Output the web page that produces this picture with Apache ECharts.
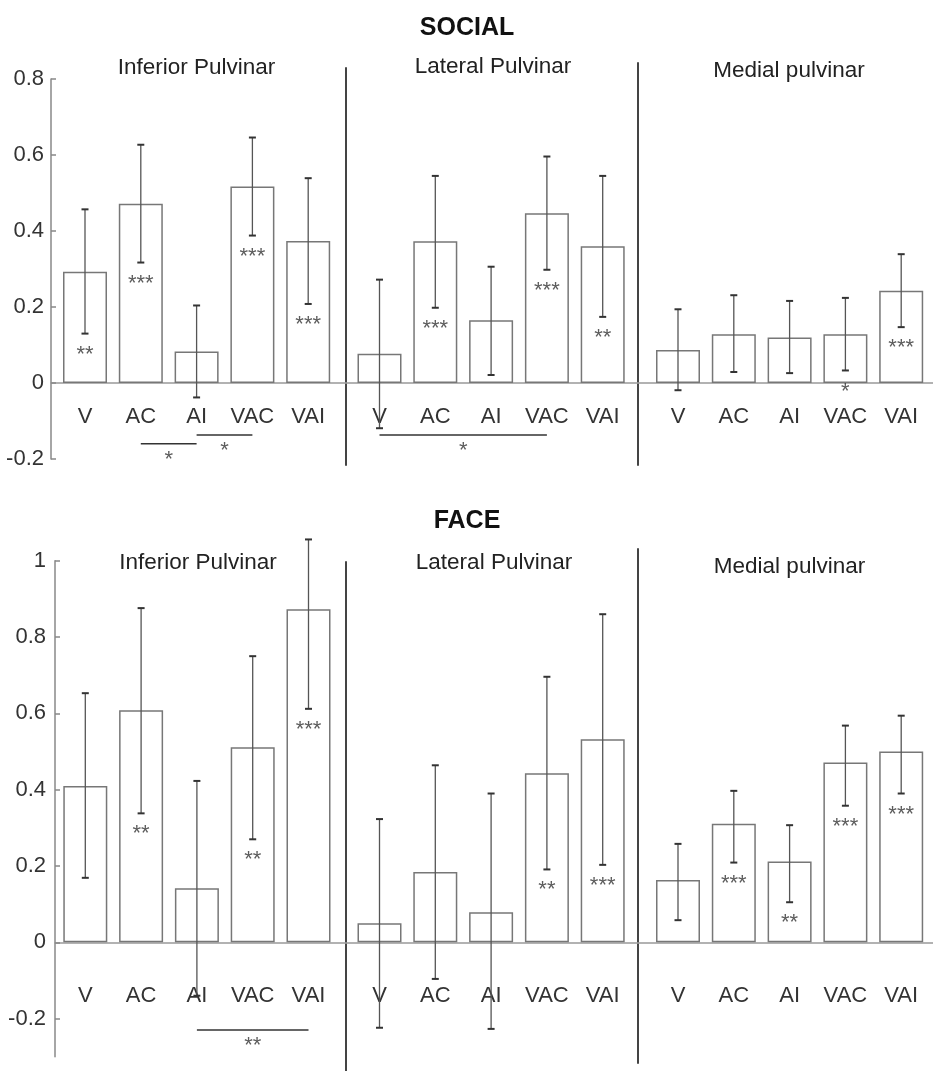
<!DOCTYPE html>
<html><head><meta charset="utf-8">
<script src="https://cdn.jsdelivr.net/npm/echarts@6/dist/echarts.min.js"></script>
<style>html,body{margin:0;padding:0;background:#fff}#c{width:933px;height:1071px}</style>
</head><body><div id="c"></div>
<script>
// ---------------- DATA ----------------
const categories = ['V', 'AC', 'AI', 'VAC', 'VAI'];
const regions = ['Inferior Pulvinar', 'Lateral Pulvinar', 'Medial pulvinar'];
const chartTitles = ['SOCIAL', 'FACE'];
const socialTicks = [-0.2, 0, 0.2, 0.4, 0.6, 0.8];
const faceTicks = [-0.2, 0, 0.2, 0.4, 0.6, 0.8, 1];

// SOCIAL
const socialInfMean = [0.293, 0.472, 0.083, 0.517, 0.374];
const socialInfLow  = [0.130, 0.317, -0.038, 0.388, 0.208];
const socialInfHigh = [0.457, 0.627, 0.204, 0.646, 0.539];
const socialInfStars = ['**', '***', '', '***', '***'];

const socialLatMean = [0.077, 0.373, 0.165, 0.447, 0.360];
const socialLatLow  = [-0.119, 0.198, 0.021, 0.298, 0.174];
const socialLatHigh = [0.272, 0.545, 0.306, 0.596, 0.545];
const socialLatStars = ['', '***', '', '***', '**'];

const socialMedMean = [0.087, 0.128, 0.120, 0.128, 0.243];
const socialMedLow  = [-0.019, 0.029, 0.026, 0.033, 0.147];
const socialMedHigh = [0.194, 0.231, 0.216, 0.224, 0.339];
const socialMedStars = ['', '', '', '*', '***'];

// FACE
const faceInfMean = [0.410, 0.608, 0.142, 0.511, 0.873];
const faceInfLow  = [0.169, 0.338, -0.140, 0.270, 0.612];
const faceInfHigh = [0.653, 0.876, 0.423, 0.750, 1.056];
const faceInfStars = ['', '**', '', '**', '***'];

const faceLatMean = [0.050, 0.184, 0.079, 0.443, 0.532];
const faceLatLow  = [-0.224, -0.096, -0.227, 0.191, 0.203];
const faceLatHigh = [0.323, 0.464, 0.390, 0.696, 0.860];
const faceLatStars = ['', '', '', '**', '***'];

const faceMedMean = [0.163, 0.311, 0.212, 0.471, 0.500];
const faceMedLow  = [0.058, 0.209, 0.105, 0.358, 0.390];
const faceMedHigh = [0.258, 0.397, 0.307, 0.568, 0.594];
const faceMedStars = ['', '***', '**', '***', '***'];

// significance brackets: [fromIndex, toIndex, level, label]
const socialInfBrackets = [[1, 2, -0.16, '*'], [2, 3, -0.137, '*']];
const socialLatBrackets = [[0, 3, -0.137, '*']];
const socialMedBrackets = [];
const faceInfBrackets = [[2, 4, -0.23, '**']];
const faceLatBrackets = [];
const faceMedBrackets = [];

// ---------------- LAYOUT ----------------
const SPACING = 55.8;
const BAR_W = 44;
const TEXT = '#333';
const FONT = '"Liberation Sans", Arial, sans-serif';

const layouts = [
  { titleY: 28, zeroY: 383, ppu: 380, axisMin: -0.2, axisMax: 0.8, ticks: socialTicks,
    axisX: 51, catMargin: 23, tickMargin: 7,
    panels: [
      { right: 346, p0: 85, subX: 196.5, subY: 68 },
      { left: 346, right: 638, top: 68, bottom: 465, p0: 379.5, subX: 493, subY: 67 },
      { left: 638, right: 933, top: 63, bottom: 465, p0: 678, subX: 789, subY: 71 }
    ],
    mean: [socialInfMean, socialLatMean, socialMedMean],
    low: [socialInfLow, socialLatLow, socialMedLow],
    high: [socialInfHigh, socialLatHigh, socialMedHigh],
    stars: [socialInfStars, socialLatStars, socialMedStars],
    brackets: [socialInfBrackets, socialLatBrackets, socialMedBrackets] },
  { titleY: 521, zeroY: 942.3, ppu: 381.5, axisMin: -0.3, axisMax: 1, ticks: faceTicks,
    axisX: 55, catMargin: 43, tickMargin: 9,
    panels: [
      { right: 346, p0: 85.3, subX: 198, subY: 563 },
      { left: 346, right: 638, top: 562, bottom: 1071, p0: 379.5, subX: 494, subY: 563 },
      { left: 638, right: 933, top: 549, bottom: 1063, p0: 678, subX: 789.5, subY: 567 }
    ],
    mean: [faceInfMean, faceLatMean, faceMedMean],
    low: [faceInfLow, faceLatLow, faceMedLow],
    high: [faceInfHigh, faceLatHigh, faceMedHigh],
    stars: [faceInfStars, faceLatStars, faceMedStars],
    brackets: [faceInfBrackets, faceLatBrackets, faceMedBrackets] }
];

const grids = [], xAxes = [], yAxes = [], series = [], graphics = [];

function renderErr(params, api) {
  const x = api.value(0), lo = api.value(1), hi = api.value(2);
  const a = api.coord([x, lo]), b = api.coord([x, hi]);
  const cap = 3.5;
  return { type: 'group', children: [
    { type: 'line', shape: { x1: a[0], y1: a[1], x2: b[0], y2: b[1] }, style: { stroke: '#555', lineWidth: 1.3 } },
    { type: 'line', shape: { x1: b[0] - cap, y1: b[1], x2: b[0] + cap, y2: b[1] }, style: { stroke: '#333', lineWidth: 2 } },
    { type: 'line', shape: { x1: a[0] - cap, y1: a[1], x2: a[0] + cap, y2: a[1] }, style: { stroke: '#333', lineWidth: 2 } }
  ]};
}

layouts.forEach((L, ci) => {
  graphics.push({ type: 'text', x: 467, y: L.titleY, silent: true,
    style: { text: chartTitles[ci], font: 'bold 25px ' + FONT, fill: '#111',
             textAlign: 'center', textVerticalAlign: 'middle' } });
  L.panels.forEach((P, pi) => {
    const isFirst = pi === 0;
    let left, top, bottom, min, max;
    if (isFirst) {
      left = L.axisX; min = L.axisMin; max = L.axisMax;
      top = L.zeroY - max * L.ppu; bottom = L.zeroY - min * L.ppu;
    } else {
      left = P.left; top = P.top; bottom = P.bottom;
      min = (L.zeroY - bottom) / L.ppu; max = (L.zeroY - top) / L.ppu;
    }
    const width = P.right - left;
    const xmin = -(P.p0 - left) / SPACING;
    const xmax = xmin + width / SPACING;
    const gi = grids.length;
    grids.push({ left: left, top: top, width: width, height: bottom - top, containLabel: false, outerBoundsMode: 'none' });
    // x axis drawn along the zero line: shift it up from the grid bottom by the zero offset
    xAxes.push({ type: 'value', gridIndex: gi, min: xmin, max: xmax, position: 'bottom',
      offset: -(bottom - L.zeroY),
      axisLine: { show: true, onZero: false, lineStyle: { color: '#999', width: 1.5 } },
      axisTick: { show: false }, splitLine: { show: false },
      axisLabel: { show: true, customValues: [0, 1, 2, 3, 4], margin: L.catMargin,
        formatter: v => categories[Math.round(v)] || '', fontSize: 22, color: TEXT, fontFamily: FONT } });
    if (isFirst) {
      yAxes.push({ type: 'value', gridIndex: gi, min: min, max: max, position: 'left',
        axisLine: { show: true, onZero: false, lineStyle: { color: '#888', width: 1.5 } },
        axisTick: { show: true, inside: true, length: 5, customValues: L.ticks, lineStyle: { color: '#888', width: 1.5 } },
        splitLine: { show: false },
        axisLabel: { show: true, customValues: L.ticks, margin: L.tickMargin, fontSize: 22, color: TEXT,
          fontFamily: FONT, formatter: v => String(Math.round(v * 10) / 10) } });
    } else {
      yAxes.push({ type: 'value', gridIndex: gi, min: min, max: max, position: 'left',
        axisLine: { show: true, onZero: false, lineStyle: { color: '#444', width: 2 } },
        axisTick: { show: false }, axisLabel: { show: false }, splitLine: { show: false } });
    }
    graphics.push({ type: 'text', x: P.subX, y: P.subY, silent: true,
      style: { text: regions[pi], font: '22.5px ' + FONT, fill: '#222',
               textAlign: 'center', textVerticalAlign: 'middle' } });

    const mean = L.mean[pi], low = L.low[pi], high = L.high[pi], stars = L.stars[pi];
    series.push({ type: 'bar', xAxisIndex: gi, yAxisIndex: gi, barWidth: BAR_W, silent: true, animation: false,
      data: mean.map((m, i) => [i, m]),
      itemStyle: { color: '#fff', borderColor: '#777', borderWidth: 1.5 } });
    series.push({ type: 'custom', xAxisIndex: gi, yAxisIndex: gi, silent: true, animation: false, z: 5,
      renderItem: renderErr, encode: { x: 0, y: [1, 2] },
      data: mean.map((m, i) => [i, low[i], high[i]]) });
    series.push({ type: 'scatter', xAxisIndex: gi, yAxisIndex: gi, silent: true, animation: false, z: 6,
      symbolSize: 0.1, itemStyle: { color: 'rgba(0,0,0,0)' },
      data: stars.map((s, i) => ({ value: [i, low[i]], name: s })).filter(d => d.name),
      label: { show: true, position: 'inside', offset: [0, 21], formatter: p => p.name,
        fontSize: 22, color: '#333', fontFamily: FONT } });
    L.brackets[pi].forEach(br => {
      series.push({ type: 'line', xAxisIndex: gi, yAxisIndex: gi, silent: true, animation: false, z: 6,
        symbol: 'none', lineStyle: { color: '#333', width: 1.5 },
        data: [[br[0], br[2]], [br[1], br[2]]] });
      series.push({ type: 'scatter', xAxisIndex: gi, yAxisIndex: gi, silent: true, animation: false, z: 6,
        symbolSize: 0.1, itemStyle: { color: 'rgba(0,0,0,0)' },
        data: [{ value: [(br[0] + br[1]) / 2, br[2]], name: br[3] }],
        label: { show: true, position: 'inside', offset: [0, 16], formatter: p => p.name,
          fontSize: 22, color: '#333', fontFamily: FONT } });
    });
  });
});

const chart = echarts.init(document.getElementById('c'), null, { renderer: 'canvas' });
chart.setOption({
  backgroundColor: '#fff',
  animation: false,
  grid: grids, xAxis: xAxes, yAxis: yAxes, series: series, graphic: graphics
});
</script></body></html>
